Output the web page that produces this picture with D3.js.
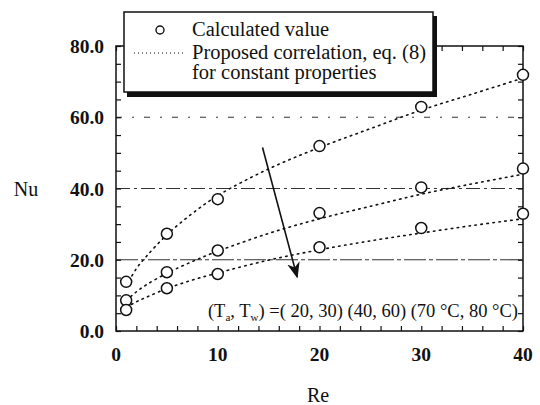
<!DOCTYPE html>
<html><head><meta charset="utf-8">
<script src="https://cdn.jsdelivr.net/npm/d3@7"></script>
<style>body{margin:0;background:#fff}svg{display:block}text{font-family:"Liberation Serif","Times New Roman",serif;fill:#111}</style>
</head><body><svg id="c" width="540" height="405"></svg>
<script>
// Data
const reValues = [1, 5, 10, 20, 30, 40];
const nuCase1 = [13.8, 27.3, 37.0, 51.9, 62.9, 71.9];   // (Ta,Tw)=(20,30)
const nuCase2 = [8.6, 16.5, 22.6, 33.1, 40.3, 45.6];    // (40,60)
const nuCase3 = [5.9, 12.0, 16.0, 23.5, 28.9, 32.9];    // (70,80)
const corrRe = [1, 2, 3, 5, 7.5, 10, 15, 20, 25, 30, 35, 40];
const corr1 = [12.5, 17.5, 21.0, 27.0, 33.0, 38.0, 45.5, 51.5, 56.8, 62.0, 66.5, 71.0];
const corr2 = [8.5, 11.0, 13.0, 16.2, 19.5, 22.4, 27.4, 31.5, 35.0, 38.4, 41.3, 44.0];
const corr3 = [6.6, 8.2, 9.5, 11.9, 14.3, 16.3, 19.9, 22.8, 25.3, 27.5, 29.6, 31.5];
const xTicks = [0, 10, 20, 30, 40];
const yTicks = [0, 20, 40, 60, 80];
const gridValues = [20, 40, 60];
const legendLabels = ["Calculated value", "Proposed correlation, eq. (8)", "for constant properties"];

const svg = d3.select("#c");
const x = d3.scaleLinear().domain([0, 40]).range([116, 523]);
const y = d3.scaleLinear().domain([0, 80]).range([331, 46]);
const X0 = x.range()[0], X1 = x.range()[1], Y0 = y.range()[0], Y1 = y.range()[1];

// grid lines (dash-dot)
svg.append("g").selectAll("line").data(gridValues).join("line")
  .attr("x1", X0).attr("x2", X1).attr("y1", d => y(d)).attr("y2", d => y(d))
  .attr("stroke", "#333").attr("stroke-width", 1.1)
  .attr("stroke-dasharray", d => d === 60 ? "6,10,2,10" : (d === 40 ? "14,4,3,4" : "22,3,4,3"));

// minor ticks inward
const minorX = d3.range(0, 41, 2);
const minorY = d3.range(0, 81, 5);
svg.append("g").attr("transform", `translate(0,${Y0})`)
  .call(d3.axisBottom(x).tickValues(minorX).tickSize(-5).tickFormat(""))
  .call(g => g.select(".domain").remove());
svg.append("g").attr("transform", `translate(0,${Y1})`)
  .call(d3.axisTop(x).tickValues(minorX).tickSize(-5).tickFormat(""))
  .call(g => g.select(".domain").remove());
svg.append("g").attr("transform", `translate(${X0},0)`)
  .call(d3.axisLeft(y).tickValues(minorY).tickSize(-5).tickFormat(""))
  .call(g => g.select(".domain").remove());
svg.append("g").attr("transform", `translate(${X1},0)`)
  .call(d3.axisRight(y).tickValues(minorY).tickSize(-5).tickFormat(""))
  .call(g => g.select(".domain").remove());
svg.selectAll(".tick line").attr("stroke", "#111").attr("stroke-width", 1.2);

// frame
svg.append("rect").attr("x", X0).attr("y", Y1).attr("width", X1 - X0).attr("height", Y0 - Y1)
  .attr("fill", "none").attr("stroke", "#111").attr("stroke-width", 1.5);

// tick labels
svg.append("g").selectAll("text").data(xTicks).join("text")
  .attr("x", d => x(d)).attr("y", 361).attr("text-anchor", "middle")
  .attr("font-size", 19.5).attr("font-weight", "bold").text(d => d);
svg.append("g").selectAll("text").data(yTicks).join("text")
  .attr("x", 104).attr("y", d => y(d) + 7).attr("text-anchor", "end")
  .attr("font-size", 19.5).attr("font-weight", "bold").text(d => d.toFixed(1));
svg.append("text").attr("x", 26).attr("y", 196).attr("text-anchor", "middle")
  .attr("font-size", 20).text("Nu");
svg.append("text").attr("x", 318).attr("y", 402).attr("text-anchor", "middle")
  .attr("font-size", 20).text("Re");

// correlation curves
const line = d3.line().x(d => x(d[0])).y(d => y(d[1])).curve(d3.curveCatmullRom);
[corr1, corr2, corr3].forEach(c => {
  svg.append("path").datum(corrRe.map((r, i) => [r, c[i]])).attr("d", line)
    .attr("fill", "none").attr("stroke", "#111").attr("stroke-width", 1.6)
    .attr("stroke-dasharray", "1.5,4.5").attr("stroke-linecap", "round");
});

// points
[nuCase1, nuCase2, nuCase3].forEach(s => {
  svg.append("g").selectAll("circle").data(reValues.map((r, i) => [r, s[i]])).join("circle")
    .attr("cx", d => x(d[0])).attr("cy", d => y(d[1])).attr("r", 5.5)
    .attr("fill", "#fff").attr("stroke", "#111").attr("stroke-width", 1.5);
});

// arrow
const defs = svg.append("defs");
defs.append("marker").attr("id", "ah").attr("viewBox", "0 0 10 10").attr("refX", 9).attr("refY", 5)
  .attr("markerWidth", 16).attr("markerHeight", 16).attr("markerUnits", "userSpaceOnUse").attr("orient", "auto")
  .append("path").attr("d", "M0,1 L10,5 L0,9 L3,5 Z").attr("fill", "#111");
svg.append("line").attr("x1", x(14.4)).attr("y1", y(51.5)).attr("x2", x(17.8)).attr("y2", y(15.2))
  .attr("stroke", "#111").attr("stroke-width", 1.6).attr("marker-end", "url(#ah)");

// annotation
const ann = svg.append("text").attr("x", 518).attr("y", 317).attr("font-size", 18.5).attr("text-anchor", "end");
ann.append("tspan").text("(T");
ann.append("tspan").attr("font-size", 11).attr("dy", 4).text("a");
ann.append("tspan").attr("dy", -4).text(", T");
ann.append("tspan").attr("font-size", 11).attr("dy", 4).text("w");
ann.append("tspan").attr("dy", -4).text(") =( 20, 30) (40, 60) (70 °C, 80 °C)");

// legend
const lg = svg.append("g");
lg.append("rect").attr("x", 127).attr("y", 16).attr("width", 310).attr("height", 81).attr("fill", "#111");
lg.append("rect").attr("x", 124).attr("y", 12).attr("width", 309).attr("height", 80)
  .attr("fill", "#fff").attr("stroke", "#111").attr("stroke-width", 1.5);
lg.append("circle").attr("cx", 160).attr("cy", 30).attr("r", 4).attr("fill", "#fff")
  .attr("stroke", "#111").attr("stroke-width", 1.4);
lg.append("line").attr("x1", 134).attr("x2", 184).attr("y1", 53).attr("y2", 53)
  .attr("stroke", "#111").attr("stroke-width", 1.2).attr("stroke-dasharray", "1,3");
lg.selectAll("text.l").data(legendLabels).join("text").attr("class", "l")
  .attr("x", 192).attr("y", (d, i) => [36, 59, 79][i]).attr("font-size", 20.5).text(d => d);
</script></body></html>
